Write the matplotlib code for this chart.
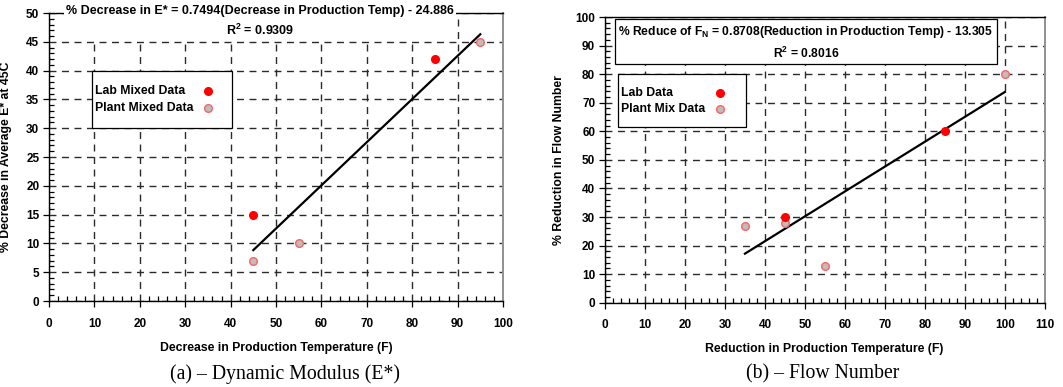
import numpy as np
import matplotlib
matplotlib.use("Agg")
import matplotlib.pyplot as plt
from matplotlib.patches import Rectangle
from matplotlib.ticker import MultipleLocator

plt.rcParams['font.family'] = ['Liberation Sans', 'DejaVu Sans']
plt.rcParams['font.weight'] = 'bold'
plt.rcParams['axes.labelweight'] = 'bold'
plt.rcParams['font.size'] = 8.5
plt.rcParams['mathtext.fontset'] = 'custom'
plt.rcParams['mathtext.rm'] = 'Liberation Sans:bold'
plt.rcParams['mathtext.bf'] = 'Liberation Sans:bold'

# (a) dynamic modulus
lab_x_a = [45, 85]
lab_y_a = [15, 42]
plant_x_a = [45, 55, 95]
plant_y_a = [7, 10, 45]
slope_a, icpt_a = 0.7494, -24.886
fit_x_a = [45, 95]

# (b) flow number
lab_x_b = [45, 85]
lab_y_b = [30, 60]
plant_x_b = [35, 45, 55, 100]
plant_y_b = [27, 28, 13, 80]
slope_b, icpt_b = 0.8708, -13.305
fit_x_b = [35, 100]

lab_style = dict(ls='none', marker='o', ms=5.5, mfc='red', mec='red')
plant_style = dict(ls='none', marker='o', ms=5.5, mfc='#bdbdbd', mec='#ff6060', mew=1.0)

fig = plt.figure(figsize=(10.63, 3.87), dpi=100)
ax1 = fig.add_axes([0.0461, 0.2222, 0.4271, 0.7442])
ax2 = fig.add_axes([0.5691, 0.2178, 0.4139, 0.7382])


def style_axes(ax, xmax, ymax, xmaj, ymaj, xmin, ymin):
    ax.set_xlim(0, xmax)
    ax.set_ylim(0, ymax)
    ax.xaxis.set_major_locator(MultipleLocator(xmaj))
    ax.yaxis.set_major_locator(MultipleLocator(ymaj))
    ax.xaxis.set_minor_locator(MultipleLocator(xmin))
    ax.yaxis.set_minor_locator(MultipleLocator(ymin))
    ax.tick_params(which='both', top=False, right=False, width=0.9, labelsize=8.5)
    ax.tick_params(which='major', direction='out', length=4)
    ax.tick_params(which='minor', direction='in', length=3.5)
    ax.tick_params(axis='x', which='major', pad=8)
    ax.tick_params(axis='y', which='major', pad=3)
    ax.grid(True, which='major', color='#2a2a2a', lw=1.0, ls=(0, (5, 4)))
    ax.set_axisbelow(True)
    for s in ['left', 'bottom', 'top']:
        ax.spines[s].set_color('black')
        ax.spines[s].set_linewidth(1.0)
    ax.spines['right'].set_color('#909090')
    ax.spines['right'].set_linewidth(1.4)


def legend_box(ax, box, text_x, mark_x, rows, entries):
    x0, y0, x1, y1 = box
    ax.add_patch(Rectangle((x0, y0), x1 - x0, y1 - y0, transform=ax.transAxes,
                           facecolor='white', edgecolor='black', lw=0.9, zorder=5))
    for (label, st), ry in zip(entries, rows):
        ax.text(text_x, ry, label, transform=ax.transAxes, va='center', ha='left',
                fontsize=8.8, fontweight='bold', zorder=6)
        ax.plot([mark_x], [ry], transform=ax.transAxes, zorder=6, clip_on=False, **st)


# ---- (a)
style_axes(ax1, 100, 50, 10, 5, 2, 1)
fx = np.array(fit_x_a)
ax1.plot(fx, slope_a * fx + icpt_a, color='black', lw=1.6, zorder=3)
ax1.plot(plant_x_a, plant_y_a, zorder=4, **plant_style)
ax1.plot(lab_x_a, lab_y_a, zorder=4, **lab_style)
ax1.set_xlabel('Decrease in Production Temperature (F)', fontsize=8.8, fontweight='bold')
ax1.set_ylabel('% Decrease in Average E* at 45C', fontsize=8.8, fontweight='bold')
ax1.xaxis.set_label_coords(0.5, -0.142)
ax1.yaxis.set_label_coords(-0.0815, 0.5)
ax1.text(46.5, 48.5, '% Decrease in E* = 0.7494(Decrease in Production Temp) - 24.886\n'
         r'R$^2$ = 0.9309', ha='center', va='center', multialignment='center',
         fontsize=9, fontweight='bold', linespacing=1.5, zorder=10, clip_on=False,
         bbox=dict(boxstyle='square,pad=0.15', fc='white', ec='none'))
legend_box(ax1, (0.0947, 0.601, 0.403, 0.799), 0.101, 0.350, (0.729, 0.670),
           [('Lab Mixed Data', lab_style), ('Plant Mixed Data', plant_style)])

# ---- (b)
style_axes(ax2, 110, 100, 10, 10, 2, 2)
fx = np.array(fit_x_b)
ax2.plot(fx, slope_b * fx + icpt_b, color='black', lw=1.6, zorder=3)
ax2.plot(plant_x_b, plant_y_b, zorder=4, clip_on=False, **plant_style)
ax2.plot(lab_x_b, lab_y_b, zorder=4, **lab_style)
ax2.set_xlabel('Reduction in Production Temperature (F)', fontsize=8.8, fontweight='bold')
ax2.set_ylabel('% Reduction in Flow Number', fontsize=8.8, fontweight='bold')
ax2.xaxis.set_label_coords(0.498, -0.141)
ax2.yaxis.set_label_coords(-0.091, 0.5)
ax2.text(50.25, 91, '% Reduce of F$_\\mathrm{N}$ = 0.8708(Reduction in Production Temp) - 13.305\n'
         r'R$^2$ = 0.8016', ha='center', va='center', multialignment='center',
         fontsize=8.75, fontweight='bold', linespacing=1.5, zorder=10,
         bbox=dict(boxstyle='square,pad=0.25', fc='white', ec='black', lw=0.9))
legend_box(ax2, (0.0295, 0.615, 0.320, 0.800), 0.036, 0.261, (0.735, 0.679),
           [('Lab Data', lab_style), ('Plant Mix Data', plant_style)])

# captions
fig.text(285 / 1063, 1 - 374 / 387, '(a) – Dynamic Modulus (E*)', ha='center', va='center',
         fontsize=14.2, fontweight='normal', family=['Liberation Serif', 'DejaVu Serif'])
fig.text(823 / 1063, 1 - 374 / 387, '(b) – Flow Number', ha='center', va='center',
         fontsize=14.2, fontweight='normal', family=['Liberation Serif', 'DejaVu Serif'])

fig.savefig('out.png', dpi=100)
